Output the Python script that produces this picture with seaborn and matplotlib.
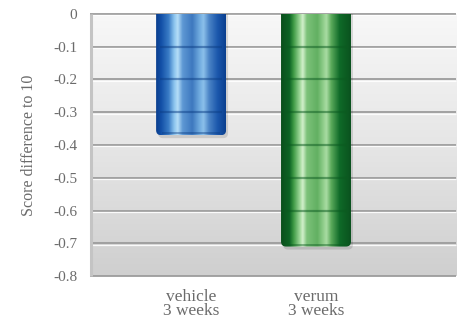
import numpy as np
import matplotlib
matplotlib.use("Agg")
import matplotlib.pyplot as plt
from matplotlib.colors import LinearSegmentedColormap
from matplotlib.patches import FancyBboxPatch
import seaborn as sns

# Mean score change relative to a score of 10
categories = ["vehicle\n3 weeks", "verum\n3 weeks"]
values = [-0.37, -0.71]
yticks = [0, -0.1, -0.2, -0.3, -0.4, -0.5, -0.6, -0.7, -0.8]

sns.set_style("white")
plt.rcParams["font.family"] = ["Liberation Serif", "DejaVu Serif"]
plt.rcParams["axes.unicode_minus"] = False

fig = plt.figure(figsize=(4.61, 3.24), dpi=100)
ax = fig.add_axes([0.195, 0.148, 0.794, 0.809])

sns.barplot(x=categories, y=values, ax=ax, width=0.56,
            palette=["#2a66b5", "#2e8a3a"], hue=categories, legend=False,
            saturation=1)

xmin, xmax = -0.81, 2.12
ax.set_xlim(xmin, xmax)
ax.set_ylim(-0.8, 0)

# Plot-area background: light at the top fading to grey at the bottom
bg = np.linspace(0, 1, 256).reshape(-1, 1)
bg_cmap = LinearSegmentedColormap.from_list("bg", ["#f8f8f8", "#e6e6e6", "#cfcfcf"])
ax.imshow(bg, cmap=bg_cmap, aspect="auto", extent=[xmin, xmax, -0.8, 0],
          origin="upper", zorder=0, interpolation="bilinear")

# Embossed grid lines: dark line with a white highlight just below
for yv in yticks:
    ax.hlines(yv, xmin, xmax, color="#9c9c9c", lw=1.3, zorder=1, clip_on=False)
    ax.hlines(yv - 0.0045, xmin, xmax, color="#ffffff", lw=0.9, zorder=1,
              clip_on=False, alpha=0.9)
# Left edge of the plot box
ax.vlines(xmin + 0.012, -0.8, 0, color="#c4c4c4", lw=2.2, zorder=1, clip_on=False)

# Cylinder-style shading for each bar
blue = LinearSegmentedColormap.from_list("blue", [
    (0.00, "#0b3f8f"), (0.07, "#124fa6"), (0.18, "#3a7cc6"), (0.26, "#8cc4ee"),
    (0.31, "#b5def8"), (0.38, "#5e98d4"), (0.52, "#3d78bf"), (0.62, "#6faade"),
    (0.68, "#8cc0ea"), (0.76, "#4b84c6"), (0.88, "#1c58ad"), (1.00, "#0b3f8f")])
green = LinearSegmentedColormap.from_list("green", [
    (0.00, "#0a4f1c"), (0.12, "#0d6425"), (0.18, "#3f9a45"), (0.27, "#9fd89a"),
    (0.31, "#d2f0cc"), (0.37, "#7cc27a"), (0.52, "#62b062"), (0.60, "#8dcc89"),
    (0.65, "#a9dca3"), (0.72, "#5aa95a"), (0.84, "#0f6a28"), (1.00, "#0a521e")])
seg_colors = ["#0d3f86", "#0b5a20"]

grad = np.linspace(0, 1, 256).reshape(1, -1)
px_x = (xmax - xmin) / (0.794 * 461)
px_y = 0.8 / (0.809 * 324)
for patch, cmap, segc, val in zip(ax.patches, [blue, green], seg_colors, values):
    x0, w = patch.get_x(), patch.get_width()
    patch.set_visible(False)
    # soft drop shadow under the rounded bottom
    shadow = FancyBboxPatch((x0 + 2 * px_x, val - 3 * px_y), w, -val + 0.05,
                            boxstyle=f"round,pad=0,rounding_size={5 * px_x}",
                            mutation_aspect=px_y / px_x, fc="#000000", ec="none",
                            alpha=0.12, zorder=2, transform=ax.transData)
    ax.add_patch(shadow)
    clip = FancyBboxPatch((x0, val), w, -val + 0.05,
                          boxstyle=f"round,pad=0,rounding_size={5 * px_x}",
                          mutation_aspect=px_y / px_x, fc="none", ec="none",
                          transform=ax.transData)
    ax.add_patch(clip)
    im = ax.imshow(grad, cmap=cmap, aspect="auto", extent=[x0, x0 + w, val, 0],
                   zorder=3, interpolation="bilinear")
    im.set_clip_path(clip)
    # ring lines across the bar at each grid step
    for yv in yticks[1:]:
        if yv > val + 0.01:
            ax.hlines(yv, x0 + 0.06 * w, x0 + 0.94 * w, color=segc, lw=1.6,
                      alpha=0.5, zorder=4)
    # darker rim at the bottom of the bar
    ax.hlines(val + 2 * px_y, x0 + 0.08 * w, x0 + 0.92 * w, color=segc, lw=1.2,
              alpha=0.5, zorder=4)

ax.set_xlim(xmin, xmax)
ax.set_ylim(-0.8, 0)
ax.set_yticks(yticks)
ax.set_yticklabels(["0" if v == 0 else f"{v:.1f}" for v in yticks])
ax.tick_params(axis="both", length=0, colors="#6b6b6b")
ax.tick_params(axis="y", labelsize=11, pad=9)
ax.tick_params(axis="x", labelsize=12.5, pad=9)
for lab in ax.get_xticklabels():
    lab.set_linespacing(0.85)
ax.set_ylabel("Score difference to 10", fontsize=11.5, color="#6b6b6b")
ax.yaxis.set_label_coords(-0.145, 0.5)
ax.set_xlabel("")
for s in ax.spines.values():
    s.set_visible(False)

fig.savefig("out.png", dpi=100)
